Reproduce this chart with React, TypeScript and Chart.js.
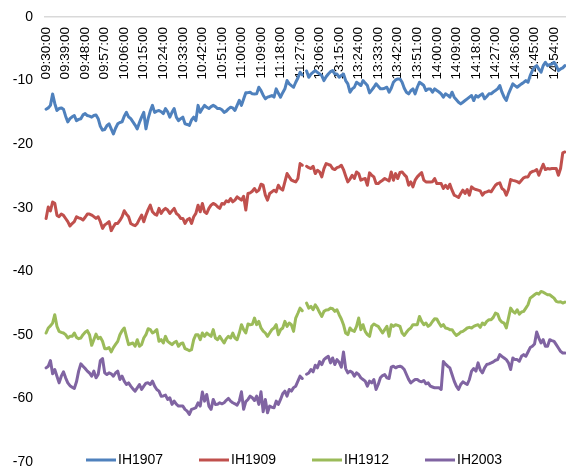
import React, { useEffect, useRef } from "react";
import { Chart, registerables } from "chart.js";

Chart.register(...registerables);

// Trading sessions: start time and number of one-minute rows
const sessionStarts = ["09:30", "13:00"];
const sessionLengths = [120, 120];
const labelEvery = 9;

const seriesNames = ["IH1907", "IH1909", "IH1912", "IH2003"];
const seriesColors = ["#4F81BD", "#C0504D", "#9BBB59", "#8064A2"];

const yMin = -70;
const yMax = 0;
const yStep = 10;

const ih1907 = [
  -14.5, -14.3, -13.9, -12.1, -13.6, -14.7, -14.4, -14.3, -14.5, -15.6,
  -16.5, -16.0, -15.7, -15.5, -16.3, -16.1, -16.0, -15.4, -15.2, -15.5,
  -15.6, -15.75, -15.5, -15.4, -16.0, -17.2, -17.8, -17.7, -17.1, -16.8,
  -17.6, -18.4, -17.5, -16.8, -16.6, -16.5, -15.6, -15.0, -15.7, -16.0,
  -16.5, -17.0, -17.6, -16.6, -15.75, -15.0, -17.6, -16.0, -14.8, -13.9,
  -15.0, -14.8, -14.7, -14.9, -15.2, -14.4, -14.9, -15.75, -15.0, -14.4,
  -15.75, -16.3, -16.0, -15.75, -16.8, -16.9, -17.05, -16.2, -15.75, -16.3,
  -13.9, -15.0, -14.4, -13.9, -14.2, -14.4, -14.1, -13.9, -14.1, -14.4,
  -14.4, -14.6, -15.0, -14.8, -14.45, -14.2, -14.3, -14.7, -13.9, -13.1,
  -13.9, -12.9, -11.93, -11.9, -11.83, -12.09, -12.1, -12.09, -11.05, -11.57,
  -12.3, -12.87, -12.61, -12.5, -12.35, -12.61, -11.3, -12.0, -12.61, -11.9,
  -11.3, -10.0, -10.52, -10.8, -11.05, -10.26, -9.6, -8.69, -9.11, null,
  -8.5, -9.48, -9.0, -8.69, -8.43, -8.7, -8.96, -9.22, -10.0, -9.4,
  -8.96, -8.6, -8.43, -8.96, -8.96, -9.48, -9.2, -8.96, -10.0, -10.52,
  -11.83, -11.3, -11.05, -10.26, -10.5, -10.78, -10.0, -10.4, -10.78, -11.93,
  -11.5, -11.05, -10.52, -10.9, -11.3, -11.3, -11.2, -11.05, -11.83, -11.2,
  -10.26, -9.9, -9.74, -9.74, -10.26, -11.2, -11.83, -12.09, -11.6, -11.31,
  -12.09, -11.05, -10.26, -10.5, -10.78, -11.57, -11.31, -11.31, -11.83, -11.31,
  -11.57, -11.8, -12.09, -12.61, -12.09, -12.3, -12.61, -11.83, -12.61, -13.0,
  -13.4, -13.66, -13.4, -13.14, -12.87, -12.6, -12.35, -13.14, -12.35, -12.61,
  -12.3, -12.09, -12.87, -12.5, -12.09, -12.09, -11.8, -11.57, -11.31, -10.78,
  -11.83, -12.61, -13.14, -12.09, -11.3, -10.52, -10.8, -11.05, -10.78, -10.52,
  -10.3, -10.0, -10.26, -9.22, -8.43, -7.91, -7.65, -8.2, -8.69, -7.65,
  -7.12, -7.65, -7.5, -7.39, -7.12, -7.65, -8.43, -8.17, -8.0, -7.65,
];

const ih1909 = [
  -31.7, -29.9, -30.5, -29.1, -29.3, -31.2, -31.4, -31.0, -31.2, -31.7,
  -32.2, -32.88, -32.5, -32.2, -31.42, -31.6, -31.7, -31.94, -31.5, -31.0,
  -31.0, -31.16, -31.4, -31.68, -31.42, -32.2, -33.25, -32.7, -32.47, -32.2,
  -33.61, -33.0, -32.47, -32.47, -32.0, -31.42, -30.48, -31.0, -31.42, -32.47,
  -32.7, -32.83, -32.47, -31.8, -31.16, -32.2, -31.16, -30.3, -29.6, -30.64,
  -31.0, -31.16, -30.11, -30.9, -30.4, -30.11, -30.37, -30.9, -30.5, -30.11,
  -30.9, -31.16, -31.68, -31.68, -32.47, -31.9, -31.68, -32.47, -31.42, -30.9,
  -29.6, -30.64, -29.33, -30.64, -30.9, -30.11, -29.6, -29.33, -29.5, -29.85,
  -30.11, -29.33, -29.44, -28.9, -29.07, -28.55, -29.07, -28.81, -28.29, -28.55,
  -28.81, -28.19, -30.37, -27.77, -27.66, -27.4, -26.98, -27.5, -27.24, -26.3,
  -26.46, -28.03, -28.81, -27.77, -27.5, -27.24, -27.5, -26.46, -26.98, -27.24,
  -25.94, -24.63, -25.15, -25.67, -25.8, -25.94, -25.41, -23.06, -23.32, null,
  -23.48, -23.7, -23.84, -23.48, -24.63, -24.11, -24.37, -25.15, -23.84, -23.06,
  -23.2, -23.32, -23.84, -24.0, -23.7, -23.58, -23.32, -24.0, -25.0, -25.94,
  -25.5, -24.89, -25.41, -24.37, -24.63, -25.67, -25.5, -25.41, -26.46, -24.52,
  -24.9, -25.15, -26.2, -26.2, -25.9, -25.67, -25.41, -25.6, -25.8, -24.37,
  -25.67, -24.63, -25.41, -24.47, -24.37, -24.8, -25.15, -26.46, -25.94, -26.72,
  -25.67, -25.15, -24.8, -24.47, -25.67, -25.94, -25.94, -25.94, -25.9, -25.41,
  -26.2, -26.2, -26.2, -26.98, -26.46, -26.98, -26.3, -27.24, -28.03, -28.2,
  -28.39, -27.77, -27.24, -27.77, -27.14, -28.03, -26.72, -27.0, -27.14, -27.24,
  -27.35, -28.03, -27.6, -27.5, -27.35, -27.5, -26.98, -26.46, -26.2, -26.09,
  -26.98, -27.24, -28.03, -27.14, -25.57, -25.7, -25.78, -25.9, -26.09, -25.67,
  -25.3, -25.15, -25.15, -24.52, -24.3, -24.21, -24.0, -24.89, -24.0, -23.16,
  -24.0, -23.84, -23.9, -23.84, -23.84, -23.84, -24.89, -23.84, -21.39, -21.23,
];

const ih1912 = [
  -49.71, -48.92, -48.6, -48.14, -46.83, -48.66, -49.45, -49.6, -49.71, -49.97,
  -50.5, -50.23, -50.23, -49.71, -50.4, -50.6, -50.5, -49.97, -49.6, -49.34,
  -49.97, -51.65, -50.76, -49.87, -50.6, -50.39, -51.0, -52.17, -52.17, -52.0,
  -52.69, -52.0, -51.5, -51.02, -49.97, -49.34, -48.92, -50.23, -51.54, -51.4,
  -51.28, -51.8, -50.76, -51.8, -51.54, -50.5, -49.97, -49.03, -49.18, -49.71,
  -49.5, -49.18, -51.02, -50.76, -51.28, -50.23, -51.02, -51.28, -51.54, -51.2,
  -51.02, -51.8, -51.4, -51.28, -52.17, -52.3, -52.48, -52.33, -50.76, -49.97,
  -49.97, -50.76, -49.71, -50.23, -49.71, -50.0, -50.23, -49.18, -50.5, -50.76,
  -50.23, -50.76, -51.28, -50.6, -50.23, -50.5, -49.71, -50.5, -50.76, -49.71,
  -48.4, -49.18, -49.71, -48.3, -48.4, -48.35, -47.36, -48.4, -47.88, -48.92,
  -49.4, -49.71, -50.23, -49.71, -49.18, -48.92, -48.4, -49.97, -49.2, -48.92,
  -47.88, -48.66, -48.14, -48.4, -49.45, -47.36, -46.6, -45.79, -46.21, null,
  -45.0, -45.79, -45.53, -46.05, -45.27, -45.79, -46.5, -47.1, -46.31, -46.1,
  -46.05, -45.79, -45.9, -46.31, -46.05, -46.83, -47.5, -48.4, -49.71, -49.97,
  -48.92, -49.3, -49.45, -48.66, -47.36, -49.18, -48.4, -49.45, -49.97, -50.23,
  -48.66, -48.3, -48.5, -48.66, -49.18, -49.71, -49.18, -48.66, -50.23, -48.4,
  -48.66, -48.4, -48.5, -48.66, -49.71, -50.08, -49.6, -49.18, -48.92, -48.4,
  -48.4, -48.4, -47.1, -47.88, -48.4, -48.14, -48.66, -48.4, -47.9, -47.46,
  -47.5, -48.14, -48.66, -48.4, -48.92, -49.0, -49.18, -49.18, -49.71, -50.08,
  -49.87, -49.55, -49.45, -49.2, -48.92, -48.82, -48.92, -48.66, -48.5, -48.4,
  -48.82, -48.14, -48.4, -47.88, -47.62, -47.62, -47.25, -46.57, -46.73, -47.62,
  -48.0, -48.14, -48.92, -47.36, -45.79, -46.31, -46.57, -46.05, -46.73, -46.4,
  -46.31, -45.79, -45.27, -44.22, -43.96, -43.7, -43.44, -43.59, -43.18, -43.28,
  -43.5, -43.7, -43.7, -43.96, -44.22, -44.74, -44.85, -44.8, -45.0, -44.85,
];

const ih2003 = [
  -55.19, -54.93, -54.04, -56.13, -55.45, -56.5, -57.55, -56.5, -55.82, -56.76,
  -57.55, -58.0, -58.23, -58.44, -57.39, -55.71, -54.56, -54.93, -55.3, -55.71,
  -56.0, -56.5, -55.71, -56.76, -56.24, -54.04, -53.73, -55.98, -56.24, -55.98,
  -56.13, -56.5, -56.0, -55.71, -57.02, -56.5, -57.28, -57.81, -57.55, -58.07,
  -58.5, -58.85, -58.33, -57.81, -58.59, -58.07, -57.6, -57.55, -57.81, -57.28,
  -58.07, -58.59, -58.85, -59.64, -59.6, -59.48, -60.16, -59.9, -60.94, -60.42,
  -60.9, -61.2, -61.2, -61.2, -61.72, -61.99, -62.51, -61.72, -61.6, -61.46,
  -60.68, -61.2, -59.0, -60.42, -59.38, -61.2, -61.72, -60.16, -60.94, -60.9,
  -60.68, -60.84, -60.68, -60.3, -60.0, -60.42, -60.68, -60.84, -61.05, -60.42,
  -58.96, -61.72, -60.5, -60.16, -59.64, -59.9, -60.32, -59.64, -60.94, -58.96,
  -62.09, -60.16, -62.25, -61.2, -61.4, -61.46, -60.42, -60.94, -60.16, -59.27,
  -58.85, -59.64, -58.59, -58.85, -58.3, -58.07, -57.28, -56.5, -56.87, null,
  -56.2, -56.0, -55.45, -55.82, -54.78, -55.19, -54.2, -54.67, -53.89, -53.6,
  -53.37, -54.41, -53.63, -54.67, -53.89, -54.3, -55.09, -52.69, -55.3, -55.98,
  -55.71, -55.9, -56.5, -55.98, -56.24, -56.76, -57.02, -57.28, -58.07, -57.28,
  -57.55, -57.02, -58.59, -57.81, -56.76, -56.4, -56.24, -56.76, -56.87, -55.09,
  -54.93, -55.19, -55.0, -54.93, -55.09, -55.45, -56.24, -57.0, -57.55, -57.28,
  -57.02, -57.02, -57.28, -57.39, -57.18, -57.7, -57.55, -58.07, -58.2, -58.33,
  -58.33, -58.33, -58.59, -54.2, -54.6, -54.93, -55.19, -56.24, -57.28, -58.07,
  -58.59, -57.81, -57.39, -57.6, -57.81, -57.02, -55.71, -55.3, -55.71, -54.41,
  -55.5, -55.98, -55.19, -54.67, -54.56, -54.41, -54.25, -54.0, -53.89, -53.11,
  -53.4, -53.63, -53.89, -54.41, -55.45, -53.63, -53.89, -53.89, -54.15, -53.37,
  -53.11, -53.37, -52.69, -52.0, -51.8, -51.44, -49.55, -50.5, -51.28, -50.76,
  -51.8, -51.8, -50.76, -50.9, -51.02, -51.54, -52.07, -52.59, -52.85, -52.85,
];

const seriesValues = [ih1907, ih1909, ih1912, ih2003];

function buildTimes(): string[] {
  const out: string[] = [];
  sessionStarts.forEach((start, s) => {
    const [h, m] = start.split(":").map(Number);
    for (let k = 0; k < sessionLengths[s]; k++) {
      const t = h * 60 + m + k;
      const hh = String(Math.floor(t / 60)).padStart(2, "0");
      const mm = String(t % 60).padStart(2, "0");
      out.push(`${hh}:${mm}:00`);
    }
  });
  return out;
}
const times = buildTimes();

const FONT = '"Liberation Sans", Arial, sans-serif';

const legendPlugin = {
  id: "excelLegend",
  afterDraw(chart: any) {
    const ctx = chart.ctx as CanvasRenderingContext2D;
    const y = 460;
    let x = 86;
    const step = 113;
    ctx.save();
    ctx.font = `14px ${FONT}`;
    ctx.textBaseline = "middle";
    ctx.textAlign = "left";
    chart.data.datasets.forEach((ds: any) => {
      ctx.strokeStyle = ds.borderColor;
      ctx.lineWidth = 3;
      ctx.lineCap = "butt";
      ctx.beginPath();
      ctx.moveTo(x, y);
      ctx.lineTo(x + 30, y);
      ctx.stroke();
      ctx.fillStyle = "#000000";
      ctx.fillText(ds.label, x + 32, y);
      x += step;
    });
    ctx.restore();
  },
};

export default function App() {
  const canvasRef = useRef<HTMLCanvasElement | null>(null);

  useEffect(() => {
    document.body.style.margin = "0";
    const canvas = canvasRef.current;
    if (!canvas) return;
    const chart = new Chart(canvas, {
      type: "line",
      data: {
        labels: times,
        datasets: seriesNames.map((name, i) => ({
          label: name,
          data: seriesValues[i],
          borderColor: seriesColors[i],
          backgroundColor: seriesColors[i],
          borderWidth: 3,
          pointRadius: 0,
          pointHoverRadius: 0,
          tension: 0,
          spanGaps: false,
          borderJoinStyle: "round" as const,
          borderCapStyle: "round" as const,
        })),
      },
      options: {
        animation: false,
        responsive: true,
        maintainAspectRatio: false,
        layout: { padding: { top: 17, bottom: 5, left: 0, right: 0 } },
        plugins: {
          legend: { display: false },
          tooltip: { enabled: false },
        },
        scales: {
          x: {
            type: "category",
            position: { y: 0 } as any,
            offset: true,
            grid: { display: false, drawTicks: false },
            border: { display: true, color: "#D9D9D9", width: 1.5 },
            ticks: {
              autoSkip: false,
              minRotation: 90,
              maxRotation: 90,
              padding: 10,
              color: "#000000",
              font: { family: FONT, size: 13.5 },
              callback: (_v: any, idx: number) =>
                idx % labelEvery === 0 ? times[idx] : "",
            },
            afterFit: (s: any) => {
              s.paddingLeft = 0;
              s.paddingRight = 0;
              s.paddingTop = 0;
              s.paddingBottom = 0;
            },
          },
          y: {
            min: yMin,
            max: yMax,
            grid: { display: false, drawTicks: false },
            border: { display: false },
            ticks: {
              stepSize: yStep,
              padding: 12,
              color: "#000000",
              font: { family: FONT, size: 14 },
            },
            afterFit: (s: any) => {
              s.width = 45;
              s.paddingTop = 0;
              s.paddingBottom = 0;
            },
          },
        },
      },
      plugins: [legendPlugin],
    });
    return () => chart.destroy();
  }, []);

  return (
    <div style={{ width: 566, height: 467, position: "relative" }}>
      <canvas ref={canvasRef} />
    </div>
  );
}
